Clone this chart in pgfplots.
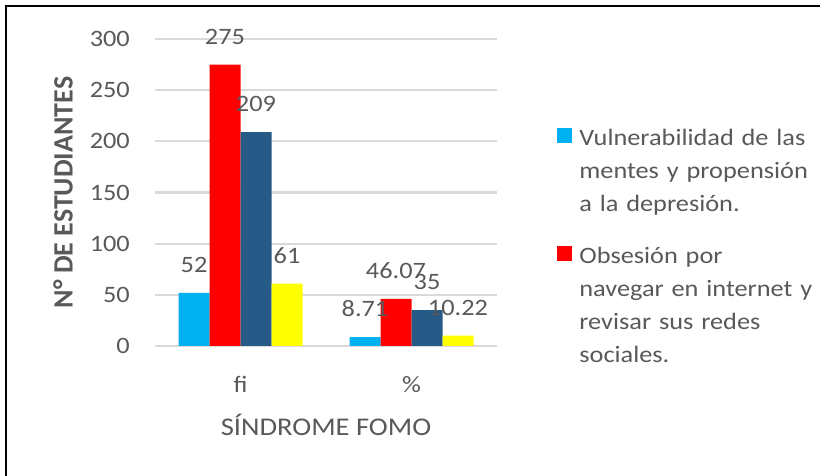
\documentclass[border=0pt]{standalone}
\usepackage{fontspec}
\setmainfont{Carlito}[FakeStretch=1.12]
\newfontfamily\ylabfont{Carlito}
\usepackage{pgfplots}
\pgfplotsset{compat=1.18}
\definecolor{txtgray}{RGB}{89,89,89}
\definecolor{gridgray}{RGB}{217,217,217}
\definecolor{cyanbar}{RGB}{0,176,240}
\definecolor{redbar}{RGB}{255,0,0}
\definecolor{navybar}{RGB}{38,90,135}
\definecolor{yellowbar}{RGB}{255,255,0}

\newcommand{\chartfont}{\fontsize{23.5}{28}\selectfont}

\begin{document}
\begin{tikzpicture}
\path[use as bounding box] (0pt,0pt) rectangle (820pt,476pt);
\draw[line width=2.4pt] (6pt,0pt) -- (6pt,470pt) -- (820pt,470pt);
\begin{axis}[
  at={(155pt,130pt)}, anchor=south west,
  width=342pt, height=307pt, scale only axis,
  xmin=-0.5, xmax=1.5, ymin=0, ymax=300,
  clip=false,
  ybar=0pt, bar width=31pt,
  axis line style={draw=none},
  major tick style={draw=none},
  ymajorgrids, grid style={gridgray, line width=2.2pt},
  ytick={0,50,...,300},
  xtick={0,1}, xticklabels={fi,\%},
  /pgf/number format/assume math mode=true,
  ticklabel style={font=\chartfont, text=txtgray, inner sep=0pt},
  yticklabel style={anchor=east, xshift=-25pt},
  xticklabel style={anchor=base, yshift=-42pt},
  xlabel={SÍNDROME FOMO},
  xlabel style={at={(axis description cs:0.5,-0.29)}, anchor=base,
    font=\fontsize{25.5}{30}\selectfont, text=txtgray, inner sep=0pt},
  ylabel={N° DE ESTUDIANTES},
  ylabel style={at={(axis description cs:-0.269,0.5)}, anchor=center,
    font=\ylabfont\bfseries\fontsize{28}{32}\selectfont, text=txtgray, inner sep=0pt},
  nodes near coords,
  every node near coord/.append style={font=\chartfont, text=txtgray,
    anchor=south, inner sep=0pt, yshift=20pt},
  legend style={at={(rel axis cs:1.176,0.729)}, anchor=north west,
    draw=none, fill=none, inner sep=0pt, row sep=93pt, column sep=7pt,
    font=\fontsize{23.5}{33}\selectfont, text=txtgray,
    nodes={inner sep=0pt, text width=250pt, align=left},
    cells={anchor=base west}},
  legend image code/.code={\fill[#1, draw=none] (0pt,2pt) rectangle (15pt,17pt);},
]
\addplot[fill=cyanbar, draw=none] coordinates {(0,52) (1,8.71)};
\addplot[fill=redbar, draw=none] coordinates {(0,275) (1,46.07)};
\addplot[fill=navybar, draw=none] coordinates {(0,209) (1,35)};
\addplot[fill=yellowbar, draw=none] coordinates {(0,61) (1,10.22)};
\legend{\strut Vulnerabilidad de las\newline mentes y propensión\newline a la depresión.\strut,
        \strut Obsesión por\newline navegar en internet y\newline revisar sus redes\newline sociales.\strut}
\end{axis}
\end{tikzpicture}
\end{document}
